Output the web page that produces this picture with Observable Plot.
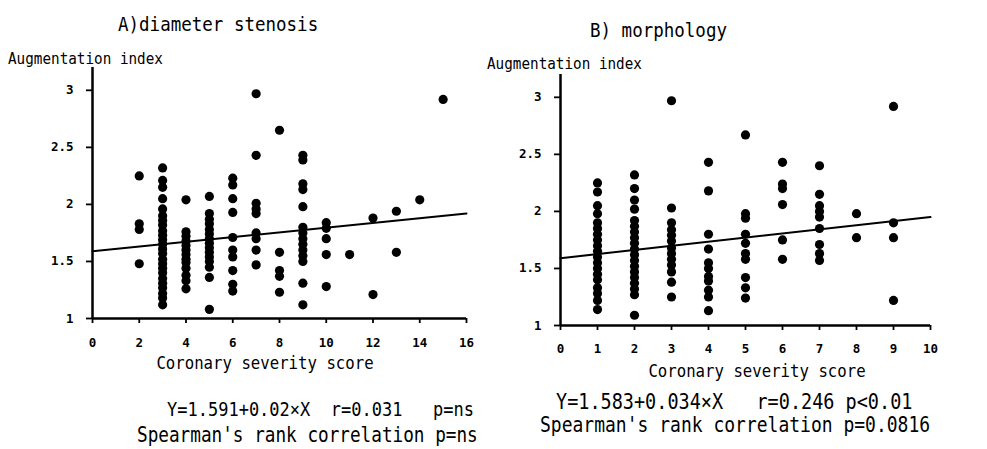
<!DOCTYPE html>
<html>
<head>
<meta charset="utf-8">
<script src="https://cdn.jsdelivr.net/npm/d3@7"></script>
<script src="https://cdn.jsdelivr.net/npm/@observablehq/plot@0.6"></script>
<style>
  html, body { margin: 0; padding: 0; background: #fff; }
  #wrap { position: relative; width: 987px; height: 449px; overflow: hidden; background: #fff; font-family: "DejaVu Sans Mono", "Liberation Mono", monospace; color: #000; }
  .t { position: absolute; white-space: pre; line-height: 1; }
  .l { transform: translate(0, -50%) scaleY(1.15); }
  .c { transform: translate(-50%, -50%) scaleY(1.1); }
  .panel { position: absolute; top: 0; }
</style>
</head>
<body>
<div id="wrap">
  <div class="t l" style="left:118px; top:25px; font-size:17.5px;">A)diameter stenosis</div>
  <div class="t l" style="left:8px; top:58px; font-size:14.3px;">Augmentation index</div>
  <div class="t l" style="left:590px; top:31px; font-size:17.5px;">B) morphology</div>
  <div class="t l" style="left:487px; top:63px; font-size:14.3px;">Augmentation index</div>
  <div class="t c" style="left:265px; top:363px; font-size:15.7px;">Coronary severity score</div>
  <div class="t c" style="left:757px; top:371px; font-size:15.7px;">Coronary severity score</div>
  <div class="t l" style="left:167px; top:410px; font-size:17px;">Y=1.591+0.02×X  r=0.031   p=ns</div>
  <div class="t l" style="left:137px; top:436px; font-size:17.7px;">Spearman's rank correlation p=ns</div>
  <div class="t l" style="left:556px; top:402px; font-size:18.5px;">Y=1.583+0.034×X   r=0.246 p&lt;0.01</div>
  <div class="t l" style="left:540px; top:425px; font-size:18px;">Spearman's rank correlation p=0.0816</div>
</div>
<script>
// ---- Data ----
// Panel A: diameter stenosis
const scoresA = [2, 3, 4, 5, 6, 7, 8, 9, 10, 11, 12, 13, 14, 15];
const indexA = [
  [2.25, 1.83, 1.78, 1.48],
  [2.32, 2.21, 2.15, 2.05, 1.96, 1.9, 1.86, 1.82, 1.77, 1.73, 1.69, 1.65, 1.61, 1.57, 1.52, 1.48, 1.44, 1.4, 1.35, 1.31, 1.27, 1.22, 1.18, 1.12],
  [2.04, 1.76, 1.72, 1.68, 1.64, 1.6, 1.56, 1.52, 1.49, 1.44, 1.38, 1.33, 1.26],
  [2.07, 1.92, 1.87, 1.83, 1.78, 1.74, 1.7, 1.66, 1.62, 1.58, 1.54, 1.5, 1.45, 1.36, 1.08],
  [2.23, 2.17, 2.05, 1.93, 1.71, 1.6, 1.54, 1.42, 1.3, 1.24],
  [2.97, 2.43, 2.01, 1.96, 1.92, 1.75, 1.7, 1.6, 1.47],
  [2.65, 1.58, 1.42, 1.37, 1.23],
  [2.43, 2.39, 2.18, 2.13, 1.98, 1.8, 1.75, 1.7, 1.65, 1.6, 1.55, 1.5, 1.31, 1.12],
  [1.84, 1.79, 1.7, 1.56, 1.28],
  [1.56],
  [1.88, 1.21],
  [1.94, 1.58],
  [2.04],
  [2.92]
];
const fitA = [{x: 0, y: 1.59}, {x: 16, y: 1.92}];

// Panel B: morphology
const scoresB = [1, 2, 3, 4, 5, 6, 7, 8, 9];
const indexB = [
  [2.25, 2.17, 2.05, 1.98, 1.9, 1.85, 1.8, 1.75, 1.7, 1.65, 1.6, 1.55, 1.5, 1.45, 1.4, 1.33, 1.28, 1.22, 1.14],
  [2.32, 2.2, 2.1, 2.02, 1.92, 1.87, 1.82, 1.77, 1.72, 1.67, 1.62, 1.57, 1.52, 1.47, 1.42, 1.37, 1.32, 1.27, 1.09],
  [2.97, 2.03, 1.9, 1.84, 1.79, 1.74, 1.68, 1.63, 1.58, 1.53, 1.47, 1.38, 1.25],
  [2.43, 2.18, 1.8, 1.67, 1.55, 1.5, 1.43, 1.39, 1.31, 1.25, 1.13],
  [2.67, 1.98, 1.94, 1.8, 1.72, 1.63, 1.58, 1.42, 1.33, 1.24],
  [2.43, 2.24, 2.2, 2.06, 1.75, 1.58],
  [2.4, 2.15, 2.05, 2.0, 1.95, 1.85, 1.71, 1.63, 1.57],
  [1.98, 1.77],
  [2.92, 1.9, 1.77, 1.22]
];
const fitB = [{x: 0, y: 1.59}, {x: 10, y: 1.95}];

// Axes
const xTicksA = [0, 2, 4, 6, 8, 10, 12, 14, 16];
const xTicksB = [0, 1, 2, 3, 4, 5, 6, 7, 8, 9, 10];
const yTicks = [1, 1.5, 2, 2.5, 3];
const xDomainA = [0, 16];
const xDomainB = [0, 10];
const yDomain = [1, 3.2];

function flatten(scores, index) {
  const out = [];
  scores.forEach((s, i) => index[i].forEach(v => out.push({x: s, y: v})));
  return out;
}

function panel({data, fit, xDomain, xTicks, width, height, mL, mR, mT, mB, xPad}) {
  return Plot.plot({
    width, height,
    marginLeft: mL, marginRight: mR, marginTop: mT, marginBottom: mB,
    style: {fontFamily: "DejaVu Sans Mono, Liberation Mono, monospace", fontSize: "13px", color: "#000", background: "transparent"},
    x: {domain: xDomain, axis: null},
    y: {domain: yDomain, axis: null},
    marks: [
      Plot.axisX({ticks: xTicks, tickSize: 5, tickPadding: xPad, strokeWidth: 1.8, tickFormat: d => String(d), label: null, fontSize: 12.5, fontWeight: "bold"}),
      Plot.axisY({ticks: yTicks, tickSize: 6, tickPadding: 13, strokeWidth: 1.8, tickFormat: d => String(d), label: null, fontSize: 12.5, fontWeight: "bold"}),
      Plot.ruleX([xDomain[0]], {y1: yDomain[0], y2: yDomain[1], strokeWidth: 2.5, stroke: "#000"}),
      Plot.ruleY([yDomain[0]], {x1: xDomain[0], x2: xDomain[1], strokeWidth: 2.5, stroke: "#000"}),
      Plot.line(fit, {x: "x", y: "y", stroke: "#000", strokeWidth: 2}),
      Plot.dot(data, {x: "x", y: "y", r: 4.6, fill: "#000", stroke: "none"})
    ]
  });
}

const wrap = document.getElementById("wrap");

const plotA = panel({
  data: flatten(scoresA, indexA), fit: fitA, xDomain: xDomainA, xTicks: xTicksA,
  width: 490, height: 360, mL: 92, mR: 24, mT: 67, mB: 42, xPad: 15
});
plotA.classList.add("panel");
plotA.style.left = "0px";
wrap.appendChild(plotA);

const plotB = panel({
  data: flatten(scoresB, indexB), fit: fitB, xDomain: xDomainB, xTicks: xTicksB,
  width: 497, height: 367, mL: 70, mR: 57, mT: 74, mB: 42, xPad: 14
});
plotB.classList.add("panel");
plotB.style.left = "490px";
wrap.appendChild(plotB);
</script>
</body>
</html>
